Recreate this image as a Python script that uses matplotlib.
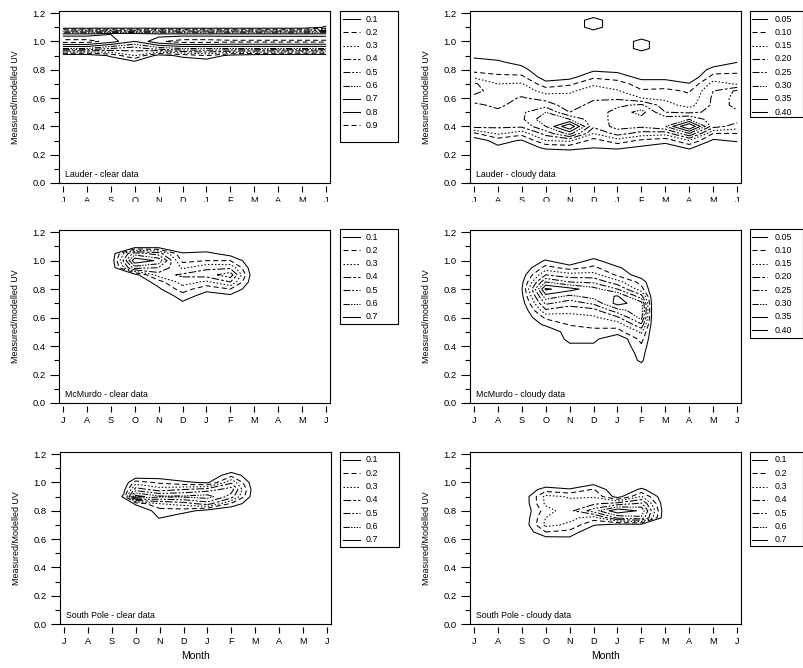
import numpy as np
import matplotlib
matplotlib.use('Agg')
import matplotlib.pyplot as plt
from matplotlib.patches import Rectangle
from matplotlib.lines import Line2D
from matplotlib.ticker import MultipleLocator, FormatStrFormatter

plt.rcParams['font.family'] = ['Liberation Sans', 'DejaVu Sans']
plt.rcParams['lines.scale_dashes'] = False

MONTHS = ['J', 'A', 'S', 'O', 'N', 'D', 'J', 'F', 'M', 'A', 'M', 'J']
CLEAR_LEVELS = [0.1, 0.2, 0.3, 0.4, 0.5, 0.6, 0.7, 0.8, 0.9]
CLEAR_LABELS = ['0.1', '0.2', '0.3', '0.4', '0.5', '0.6', '0.7', '0.8', '0.9']
CLOUDY_LEVELS = [0.05, 0.10, 0.15, 0.20, 0.25, 0.30, 0.35, 0.40]
CLOUDY_LABELS = ['0.05', '0.10', '0.15', '0.20', '0.25', '0.30', '0.35', '0.40']

# ---- density grids (rows = ratio, cols = month index) ----
LAUDER_CLEAR_X = [0, 1, 2, 3, 4, 5, 6, 7, 8, 9, 10, 11]
LAUDER_CLEAR_Y = [0.80, 0.85, 0.90, 0.95, 1.00, 1.05, 1.10, 1.15]
LAUDER_CLEAR_Z = [
    [0, 0, 0, 0, 0, 0, 0, 0, 0, 0, 0, 0],
    [0, 0, 0, 0.05, 0, 0, 0, 0, 0, 0, 0, 0],
    [0, 0, 0.12, 0.30, 0.05, 0.13, 0.20, 0.06, 0.02, 0, 0, 0],
    [0.60, 0.60, 0.50, 0.45, 0.55, 0.60, 0.60, 0.60, 0.60, 0.60, 0.60, 0.60],
    [0.95, 0.95, 0.85, 0.70, 0.88, 0.95, 0.95, 0.93, 0.93, 0.93, 0.93, 0.93],
    [0.75, 0.75, 0.80, 0.80, 0.75, 0.75, 0.75, 0.75, 0.75, 0.75, 0.75, 0.75],
    [0, 0, 0, 0, 0, 0, 0, 0, 0, 0, 0, 0.12],
    [0, 0, 0, 0, 0, 0, 0, 0, 0, 0, 0, 0],
]

LAUDER_CLOUDY_X = [0, 1, 2, 3, 4, 5, 6, 7, 8, 9, 10, 11]
LAUDER_CLOUDY_Y = [0.15, 0.20, 0.25, 0.30, 0.35, 0.40, 0.45, 0.50, 0.55, 0.60, 0.65,
                   0.70, 0.75, 0.80, 0.85, 0.90, 0.95, 1.00, 1.05, 1.10, 1.15, 1.20]
LAUDER_CLOUDY_Z = [
    [0, 0, 0, 0, 0, 0, 0, 0, 0, 0, 0, 0],
    [0, 0, 0, 0.01, 0.01, 0, 0.01, 0, 0, 0.01, 0, 0],
    [0, 0.04, 0.02, 0.06, 0.07, 0.052, 0.06, 0.04, 0.02, 0.06, 0, 0],
    [0.02, 0.07, 0.045, 0.15, 0.16, 0.08, 0.13, 0.09, 0.07, 0.15, 0.04, 0.06],
    [0.09, 0.16, 0.12, 0.22, 0.32, 0.15, 0.22, 0.18, 0.17, 0.30, 0.10, 0.10],
    [0.22, 0.21, 0.21, 0.30, 0.45, 0.21, 0.27, 0.26, 0.30, 0.46, 0.22, 0.18],
    [0.23, 0.22, 0.24, 0.34, 0.30, 0.22, 0.27, 0.28, 0.28, 0.30, 0.22, 0.22],
    [0.22, 0.21, 0.24, 0.30, 0.20, 0.22, 0.27, 0.32, 0.20, 0.19, 0.21, 0.24],
    [0.21, 0.19, 0.22, 0.23, 0.17, 0.22, 0.24, 0.26, 0.17, 0.13, 0.21, 0.27],
    [0.18, 0.18, 0.205, 0.18, 0.17, 0.19, 0.19, 0.15, 0.14, 0.11, 0.21, 0.27],
    [0.22, 0.17, 0.18, 0.13, 0.14, 0.18, 0.155, 0.105, 0.11, 0.095, 0.20, 0.26],
    [0.21, 0.15, 0.155, 0.07, 0.09, 0.14, 0.12, 0.08, 0.08, 0.055, 0.17, 0.145],
    [0.14, 0.11, 0.11, 0.02, 0.03, 0.09, 0.08, 0.03, 0.03, 0, 0.12, 0.12],
    [0.08, 0.08, 0.07, 0, 0, 0.04, 0.03, 0, 0, 0, 0.07, 0.08],
    [0.06, 0.06, 0.035, 0, 0, 0, 0, 0, 0, 0, 0.02, 0.052],
    [0.045, 0.03, 0, 0, 0, 0, 0, 0, 0, 0, 0, 0],
    [0, 0, 0, 0, 0, 0, 0, 0.075, 0, 0, 0, 0],
    [0, 0, 0, 0, 0, 0, 0, 0.075, 0, 0, 0, 0],
    [0, 0, 0, 0, 0, 0, 0, 0, 0, 0, 0, 0],
    [0, 0, 0, 0, 0, 0.08, 0, 0, 0, 0, 0, 0],
    [0, 0, 0, 0, 0, 0.08, 0, 0, 0, 0, 0, 0],
    [0, 0, 0, 0, 0, 0, 0, 0, 0, 0, 0, 0],
]

MCMURDO_CLEAR_X = [2, 3, 4, 5, 6, 7, 8]
MCMURDO_CLEAR_Y = [0.65, 0.70, 0.75, 0.80, 0.85, 0.90, 0.95, 1.00, 1.05, 1.10, 1.15]
MCMURDO_CLEAR_Z = [
    [0, 0, 0, 0, 0, 0, 0],
    [0, 0, 0, 0.08, 0, 0, 0],
    [0, 0, 0, 0.15, 0.05, 0.07, 0],
    [0, 0, 0.08, 0.25, 0.13, 0.20, 0],
    [0, 0, 0.15, 0.35, 0.28, 0.40, 0],
    [0, 0.05, 0.35, 0.42, 0.45, 0.56, 0],
    [0, 0.55, 0.50, 0.28, 0.38, 0.38, 0],
    [0, 0.78, 0.68, 0.17, 0.20, 0.20, 0],
    [0, 0.55, 0.45, 0.11, 0.13, 0.05, 0],
    [0, 0, 0.02, 0, 0, 0, 0],
    [0, 0, 0, 0, 0, 0, 0],
]

MCMURDO_CLOUDY_X = [2, 3, 4, 5, 6, 7, 7.5]
MCMURDO_CLOUDY_Y = [0.20, 0.25, 0.30, 0.35, 0.40, 0.45, 0.50, 0.55, 0.60,
                    0.65, 0.70, 0.75, 0.80, 0.85, 0.90, 0.95, 1.00, 1.05]
MCMURDO_CLOUDY_Z = [
    [0, 0, 0, 0, 0, 0, 0],
    [0, 0, 0, 0, 0, 0.03, 0],
    [0, 0, 0, 0, 0, 0.06, 0],
    [0, 0, 0, 0, 0, 0.07, 0],
    [0, 0, 0.04, 0.04, 0, 0.09, 0],
    [0, 0, 0.065, 0.065, 0, 0.12, 0],
    [0, 0, 0.08, 0.09, 0.08, 0.16, 0],
    [0, 0.06, 0.102, 0.11, 0.12, 0.24, 0],
    [0, 0.11, 0.125, 0.14, 0.19, 0.32, 0],
    [0, 0.19, 0.17, 0.18, 0.28, 0.33, 0],
    [0.02, 0.26, 0.22, 0.26, 0.37, 0.32, 0],
    [0.035, 0.33, 0.29, 0.32, 0.355, 0.22, 0],
    [0.045, 0.41, 0.37, 0.32, 0.25, 0.12, 0],
    [0.035, 0.30, 0.25, 0.24, 0.17, 0.08, 0],
    [0.02, 0.20, 0.17, 0.17, 0.09, 0.02, 0],
    [0, 0.12, 0.08, 0.11, 0.06, 0, 0],
    [0, 0.055, 0, 0.07, 0, 0, 0],
    [0, 0, 0, 0, 0, 0, 0],
]

SP_CLEAR_X = [2, 2.5, 3, 4, 5, 6, 7, 8]
SP_CLEAR_Y = [0.70, 0.75, 0.80, 0.85, 0.90, 0.95, 1.00, 1.05, 1.10]
SP_CLEAR_Z = [
    [0, 0, 0, 0, 0, 0, 0, 0],
    [0, 0, 0, 0.105, 0, 0, 0, 0],
    [0, 0, 0, 0.15, 0.15, 0.05, 0, 0],
    [0, 0, 0.12, 0.30, 0.35, 0.45, 0.18, 0],
    [0, 0.12, 0.75, 0.62, 0.62, 0.65, 0.45, 0],
    [0, 0.06, 0.45, 0.35, 0.40, 0.45, 0.55, 0],
    [0, 0, 0.25, 0.18, 0.12, 0.08, 0.38, 0],
    [0, 0, 0, 0.03, 0, 0, 0.17, 0],
    [0, 0, 0, 0, 0, 0, 0, 0],
]

SP_CLOUDY_X = [2, 3, 4, 5, 6, 7, 8]
SP_CLOUDY_Y = [0.55, 0.60, 0.65, 0.70, 0.75, 0.80, 0.85, 0.90, 0.95, 1.00, 1.05]
SP_CLOUDY_Z = [
    [0, 0, 0, 0, 0, 0, 0],
    [0, 0.05, 0.07, 0, 0, 0, 0],
    [0, 0.20, 0.17, 0, 0, 0, 0],
    [0, 0.33, 0.28, 0.11, 0.05, 0.05, 0],
    [0, 0.30, 0.33, 0.25, 0.52, 0.58, 0],
    [0, 0.25, 0.37, 0.55, 0.78, 0.68, 0],
    [0, 0.32, 0.33, 0.38, 0.45, 0.52, 0],
    [0, 0.33, 0.29, 0.29, 0.05, 0.31, 0],
    [0, 0.15, 0.11, 0.21, 0, 0.12, 0],
    [0, 0, 0, 0.05, 0, 0, 0],
    [0, 0, 0, 0, 0, 0, 0],
]

# SigmaPlot-like line styles, one per contour level
DASH = (0, (3.6, 2.2))
STYLES = ['-', DASH, (0, (1.1, 1.4)), (0, (5.5, 1.5, 2.0, 1.5)),
          (0, (5.0, 1.3, 1.3, 1.3, 1.3, 1.3)),
          (0, (4.5, 1.0, 1.0, 1.0, 1.0, 1.0, 1.0, 1.0)), '-', '-', DASH]

W, H = 804, 668
fig = plt.figure(figsize=(W / 100, H / 100), dpi=100)


def fbox(x, y, w, h):
    return [x / W, 1 - (y + h) / H, w / W, h / H]


def panel(axpx, xs, ys, zs, levels, labels, name, ylabel, legpx, month=False):
    ax = fig.add_axes(fbox(*axpx))
    X, Y = np.meshgrid(xs, ys)
    Z = np.array(zs, float)
    for lev, ls in zip(levels, STYLES):
        cs = ax.contour(X, Y, Z, levels=[lev], colors='k', linewidths=0.75)
        cs.set_linestyle(ls)
    ax.set_xlim(-0.16, 11.16)
    ax.set_ylim(0, 1.215)
    ax.set_xticks(range(12))
    ax.set_xticklabels(MONTHS)
    ax.set_yticks([0, 0.2, 0.4, 0.6, 0.8, 1.0, 1.2])
    ax.yaxis.set_major_formatter(FormatStrFormatter('%.1f'))
    ax.yaxis.set_minor_locator(MultipleLocator(0.1))
    ax.tick_params(axis='y', which='major', length=6.5, width=0.8, pad=3.2, labelsize=6.8)
    ax.tick_params(axis='y', which='minor', length=3.5, width=0.8)
    ax.tick_params(axis='x', length=4.5, width=0.8, pad=3, labelsize=6.6)
    for sp in ax.spines.values():
        sp.set_linewidth(0.8)
    # x ticks sit a little below the frame
    ax.spines['bottom'].set_position(('outward', 2.2))
    ax.spines['bottom'].set_visible(False)
    ax.plot([0, 1], [0, 0], transform=ax.transAxes, color='k', lw=0.8, clip_on=False)
    ax.text(6 / axpx[2], 6.3 / axpx[3], name, transform=ax.transAxes,
            fontsize=6.3, va='baseline', ha='left')
    ax.set_ylabel(ylabel, fontsize=6.4)
    ax.yaxis.set_label_coords(-39 / axpx[2], 0.5)
    if month:
        ax.set_xlabel('Month', fontsize=7.5)
        ax.xaxis.set_label_coords(0.5, -27 / axpx[3])
    # legend box drawn by hand (fixed SigmaPlot-like box)
    lx, ly, lw_, lh = legpx
    fig.add_artist(Rectangle((lx / W, 1 - (ly + lh) / H), lw_ / W, lh / H,
                             transform=fig.transFigure, fill=False, lw=0.8, color='k'))
    x1, x2, xt = (lx + 3, lx + 20, lx + 26) if lw_ > 56 else (lx + 2, lx + 17, lx + 25)
    for i, (lab, ls) in enumerate(zip(labels, STYLES)):
        yc = 1 - (ly + 8 + i * 13.3) / H
        fig.add_artist(Line2D([x1 / W, x2 / W], [yc, yc], transform=fig.transFigure,
                              color='k', lw=0.75, ls=ls))
        fig.text(xt / W, yc, lab, fontsize=6.4, va='center', ha='left')
    return ax


panel((59, 11, 271, 172), LAUDER_CLEAR_X, LAUDER_CLEAR_Y, LAUDER_CLEAR_Z,
      CLEAR_LEVELS, CLEAR_LABELS, 'Lauder - clear data', 'Measured/modelled UV',
      (340, 11, 58, 131))
panel((470, 11, 271, 172), LAUDER_CLOUDY_X, LAUDER_CLOUDY_Y, LAUDER_CLOUDY_Z,
      CLOUDY_LEVELS, CLOUDY_LABELS, 'Lauder - cloudy data', 'Measured/modelled UV',
      (750, 11, 53.5, 106))
panel((59, 230, 271, 173), MCMURDO_CLEAR_X, MCMURDO_CLEAR_Y, MCMURDO_CLEAR_Z,
      CLEAR_LEVELS[:7], CLEAR_LABELS[:7], 'McMurdo - clear data', 'Measured/modelled UV',
      (340, 229, 58, 95))
panel((470, 230, 271, 173), MCMURDO_CLOUDY_X, MCMURDO_CLOUDY_Y, MCMURDO_CLOUDY_Z,
      CLOUDY_LEVELS, CLOUDY_LABELS, 'McMurdo - cloudy data', 'Measured/modelled UV',
      (750, 229, 53.5, 109))
panel((60, 452, 271, 172), SP_CLEAR_X, SP_CLEAR_Y, SP_CLEAR_Z,
      CLEAR_LEVELS[:7], CLEAR_LABELS[:7], 'South Pole - clear data', 'Measured/Modelled UV',
      (340, 452, 59, 95), month=True)
panel((470, 452, 271, 172), SP_CLOUDY_X, SP_CLOUDY_Y, SP_CLOUDY_Z,
      CLEAR_LEVELS[:7], CLEAR_LABELS[:7], 'South Pole - cloudy data', 'Measured/Modelled UV',
      (750, 452, 53.5, 94), month=True)

# the top row month letters are cut off in the original scan
fig.add_artist(Rectangle((0, 1 - 224 / H), 1, (224 - 201.5) / H, transform=fig.transFigure,
                         color='white', zorder=10))

fig.savefig('out.png', dpi=100)
